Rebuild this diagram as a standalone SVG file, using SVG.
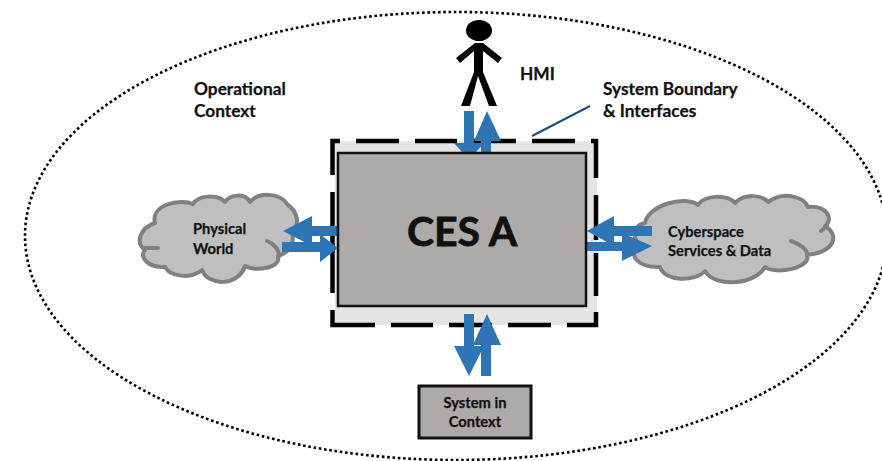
<svg xmlns="http://www.w3.org/2000/svg" width="882" height="461" viewBox="0 0 882 461">
<style>
text{font-family:"Lato","Liberation Sans",sans-serif;font-weight:700;fill:#111;stroke:#111;stroke-width:.25}
.l{font-size:17.300px}
.s{font-size:14.700px}
.cloud{fill:#bfbfbf;stroke:#808080;stroke-width:4;stroke-linejoin:round;stroke-linecap:round}
.arrow{fill:#2e75b6}
.dash{fill:none;stroke:#000;stroke-width:4.500;stroke-linejoin:miter}
.block{fill:#aeaaaa;stroke:#111}
</style>
<rect width="882" height="461" fill="#fff"/>
<g id="operational-context">
<ellipse cx="456" cy="236" rx="431" ry="224" fill="none" stroke="#000" stroke-width="2.600" stroke-dasharray="2.600 2.700"/>
<text class="l" x="194" y="95">Operational</text>
<text class="l" x="194" y="117">Context</text>
</g>
<g id="physical-world">
<path class="cloud" d="M155 223C150 205 180 198 193 204C198 195 218 194 225 202C230 194 245 193 250 202C258 192 280 192 288 205C298 212 300 225 292 232C295 245 290 252 278 256C282 268 255 272 245 266C238 287 208 286 202 270C190 280 170 276 165 267C150 268 138 258 145 250C135 243 140 228 155 223Z"/>
<path class="cloud" style="fill:none" d="M267 241C275 244 281 252 278 258M145 248L158 248"/>
<text class="s" x="193" y="234">Physical</text>
<text class="s" x="193" y="254">World</text>
</g>
<g id="cyberspace">
<path class="cloud" d="M645 223C648 205 685 195 698 205C705 194 728 195 735 203C745 193 762 195 768 202C785 190 805 198 808 207C825 205 835 218 825 226C840 235 835 252 807 255C812 268 775 275 765 267C755 285 715 288 705 271C695 282 665 282 660 267C640 268 625 255 640 245C630 235 635 225 645 223Z"/>
<path class="cloud" style="fill:none" d="M791 241C800 244 808 250 807 255M821 231L827 226"/>
<text class="s" x="668" y="237">Cyberspace</text>
<text class="s" x="668" y="256">Services &amp; Data</text>
</g>
<g id="system-boundary">
<rect x="335" y="141" width="262" height="184" fill="#e4e4e4"/>
<path class="dash" d="M332.500 175V141H340M356 141H399M415 141H457M474 141H516M532 141H575M591 141H596V178M596 195V240M596 253V296M596 312V325H567M551 325H508M492 325H449M433 325H391M375 325H332.500V310M332.500 293V192"/>
<text class="l" x="603" y="95">System Boundary</text>
<text class="l" x="603" y="117">&amp; Interfaces</text>
</g>
<g id="hmi">
<ellipse cx="479" cy="30.500" rx="13" ry="10.500" fill="#000"/>
<path fill="#000" d="M475 43H483L502 58L498 63L483 51V72L497 106H489L478 76L470 106H461L474 72V51L460 63L456 58Z"/>
<text class="l" x="520" y="80">HMI</text>
</g>
<g id="connectors">
<path fill="none" stroke="#1f4e79" stroke-width="2" d="M532 136L590 106"/>
<path class="arrow" d="M464 111H474V143H484L469 160L454 143H464Z"/>
<path class="arrow" d="M487 111L501 141H491V160H481V141H474Z"/>
<path class="arrow" d="M464 314H474V346H484L469 376L454 346H464Z"/>
<path class="arrow" d="M487 314L501 345H491V376H481V345H473Z"/>
<path class="arrow" d="M283 231L312 216V226H338V236H312V246Z"/>
<path class="arrow" d="M282 242H320V234L338 248L320 262V252H282Z"/>
<path class="arrow" d="M587 231L614 216V226H652V236H614V246Z"/>
<path class="arrow" d="M587 242H622V233L652 246L622 261V251H587Z"/>
</g>
<g id="ces-a">
<rect class="block" x="338" y="153" width="248" height="153" stroke-width="2.500"/>
<text x="462" y="246" text-anchor="middle" font-size="41" style="stroke-width:.8">CES A</text>
</g>
<g id="system-in-context">
<rect class="block" x="419" y="386" width="112" height="52" stroke-width="3"/>
<text class="s" x="475" y="408" text-anchor="middle">System in</text>
<text class="s" x="475" y="427" text-anchor="middle">Context</text>
</g>
</svg>
